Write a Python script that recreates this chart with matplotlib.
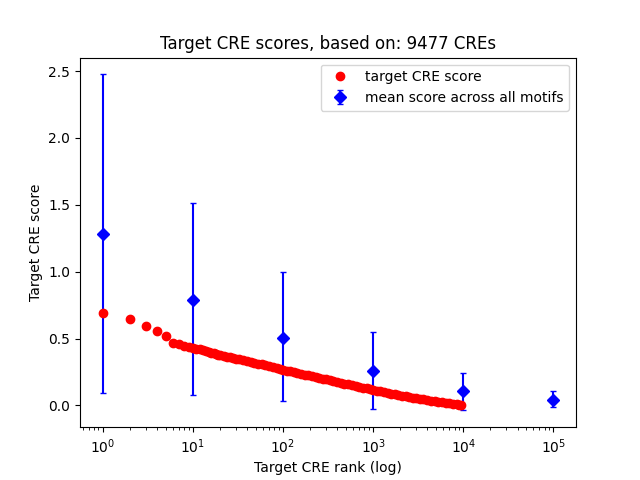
import matplotlib
matplotlib.use("Agg")
import matplotlib.pyplot as plt

ranks = [1, 2, 3, 4, 5, 6, 7, 8, 9, 10,
         11, 12, 13, 14, 15, 16, 17, 18, 19, 20, 22, 24, 26, 28, 30, 33, 36, 40, 44, 48,
         53, 58, 64, 70, 77, 85, 93, 100, 110, 120, 132, 145, 160, 175, 190, 210, 230, 250,
         275, 300, 330, 360, 400, 440, 480, 530, 580, 640, 700, 770, 850, 930, 1000, 1100,
         1200, 1320, 1450, 1600, 1750, 1900, 2100, 2300, 2500, 2750, 3000, 3300, 3600, 4000,
         4400, 4800, 5300, 5800, 6400, 7000, 7700, 8500, 9000, 9477]
scores = [0.694, 0.649, 0.594, 0.556, 0.522, 0.466, 0.456, 0.445, 0.437, 0.43,
          0.425, 0.42, 0.415, 0.41, 0.40, 0.395, 0.39, 0.385, 0.38, 0.375, 0.37, 0.365, 0.36,
          0.355, 0.35, 0.345, 0.34, 0.333, 0.327, 0.32, 0.313, 0.307, 0.30, 0.293, 0.287,
          0.28, 0.272, 0.266, 0.26, 0.254, 0.248, 0.242, 0.235, 0.229, 0.224, 0.218, 0.212,
          0.207, 0.20, 0.195, 0.189, 0.183, 0.176, 0.17, 0.164, 0.158, 0.152, 0.146, 0.14,
          0.134, 0.128, 0.122, 0.117, 0.111, 0.106, 0.10, 0.095, 0.089, 0.084, 0.079, 0.074,
          0.069, 0.064, 0.059, 0.055, 0.05, 0.046, 0.041, 0.037, 0.033, 0.029, 0.025, 0.021,
          0.017, 0.013, 0.009, 0.006, 0.003]

mean_ranks = [1, 10, 100, 1000, 10000, 100000]
mean_scores = [1.285, 0.79, 0.507, 0.26, 0.105, 0.043]
lower = [0.095, 0.075, 0.03, -0.025, -0.037, -0.013]
upper = [2.475, 1.517, 0.995, 0.549, 0.245, 0.105]

yerr = [[m - l for m, l in zip(mean_scores, lower)],
        [u - m for m, u in zip(mean_scores, upper)]]

fig, ax = plt.subplots(figsize=(6.4, 4.8), dpi=100)
h_red, = ax.plot(ranks, scores, 'ro', label='target CRE score', zorder=3)
h_blue = ax.errorbar(mean_ranks, mean_scores, yerr=yerr, fmt='bD', capsize=2,
                     label='mean score across all motifs', zorder=2)
ax.set_xscale('log')
ax.set_title('Target CRE scores, based on: 9477 CREs')
ax.set_xlabel('Target CRE rank (log)')
ax.set_ylabel('Target CRE score')
ax.legend(handles=[h_red, h_blue], loc='upper right')
fig.savefig('out.png', dpi=100)
